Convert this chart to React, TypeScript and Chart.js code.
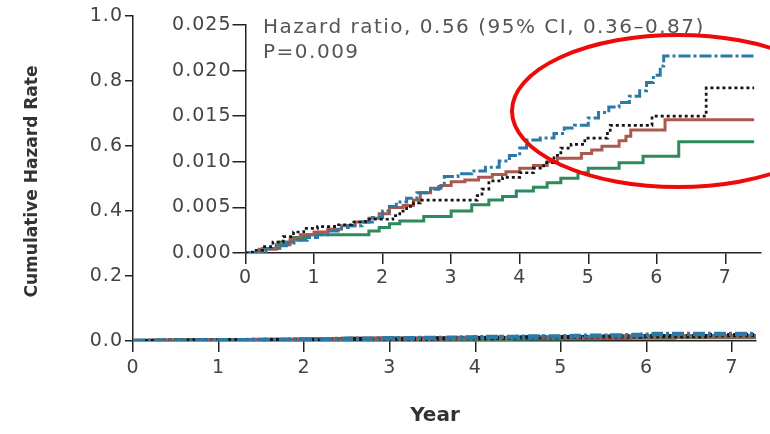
import { useEffect, useRef } from 'react';
import { Chart, registerables } from 'chart.js';

Chart.register(...registerables);

// ---- data (years, cumulative hazard) ----
const blueYears = [0, 0.15, 0.3, 0.45, 0.6, 0.75, 0.9, 1.05, 1.2, 1.35, 1.5, 1.7, 1.85, 2.0, 2.1, 2.2, 2.35, 2.5, 2.7, 2.82, 2.9, 3.1, 3.3, 3.5, 3.7, 3.85, 4.0, 4.1, 4.3, 4.5, 4.65, 4.8, 5.0, 5.15, 5.3, 5.45, 5.6, 5.75, 5.85, 5.95, 6.05, 6.1, 7.42];
const blueRates = [0, 0.0002, 0.0005, 0.0008, 0.0011, 0.0014, 0.0017, 0.002, 0.0024, 0.0028, 0.003, 0.0034, 0.0039, 0.0046, 0.0051, 0.0056, 0.006, 0.0066, 0.007, 0.0073, 0.0084, 0.0087, 0.009, 0.0094, 0.0101, 0.0107, 0.0115, 0.0124, 0.0126, 0.0131, 0.0137, 0.014, 0.0148, 0.0154, 0.016, 0.0165, 0.0172, 0.0178, 0.0187, 0.0195, 0.0205, 0.0216, 0.0216];

const blackYears = [0, 0.1, 0.25, 0.4, 0.55, 0.7, 0.85, 1.05, 1.3, 1.55, 1.75, 2.15, 2.25, 2.35, 2.45, 2.55, 3.38, 3.45, 3.55, 3.75, 4.0, 4.2, 4.35, 4.5, 4.6, 4.75, 4.95, 5.28, 5.32, 5.93, 6.72, 7.42];
const blackRates = [0, 0.0003, 0.0007, 0.0012, 0.0018, 0.0023, 0.0027, 0.0029, 0.0031, 0.0034, 0.0037, 0.0041, 0.0046, 0.0051, 0.0055, 0.0058, 0.0063, 0.007, 0.0079, 0.0083, 0.0088, 0.0093, 0.0099, 0.0107, 0.0115, 0.0119, 0.0126, 0.0133, 0.014, 0.015, 0.0181, 0.0181];

const redYears = [0, 0.2, 0.45, 0.65, 0.8, 1.0, 1.2, 1.4, 1.6, 1.8, 1.95, 2.1, 2.3, 2.45, 2.55, 2.7, 2.85, 3.0, 3.2, 3.4, 3.6, 3.8, 4.0, 4.2, 4.4, 4.55, 4.9, 5.05, 5.2, 5.45, 5.55, 5.62, 6.12, 7.42];
const redRates = [0, 0.0004, 0.0009, 0.0015, 0.002, 0.0023, 0.0026, 0.003, 0.0034, 0.0038, 0.0043, 0.005, 0.0052, 0.0058, 0.0066, 0.0071, 0.0074, 0.0078, 0.008, 0.0083, 0.0086, 0.0089, 0.0093, 0.0096, 0.01, 0.0104, 0.0109, 0.0113, 0.0117, 0.0123, 0.0128, 0.0135, 0.0146, 0.0146];

const greenYears = [0, 0.25, 0.5, 0.7, 0.9, 1.8, 1.95, 2.1, 2.25, 2.6, 3.0, 3.3, 3.55, 3.75, 3.95, 4.2, 4.4, 4.6, 4.85, 5.0, 5.45, 5.8, 6.32, 7.42];
const greenRates = [0, 0.0005, 0.0012, 0.0017, 0.002, 0.0024, 0.0028, 0.0032, 0.0035, 0.004, 0.0046, 0.0053, 0.0058, 0.0062, 0.0068, 0.0072, 0.0077, 0.0082, 0.0088, 0.0093, 0.0099, 0.0106, 0.0122, 0.0122];

// ---- tick labels & text ----
const yearTicks = [0, 1, 2, 3, 4, 5, 6, 7];
const outerRateTicks = [0, 0.2, 0.4, 0.6, 0.8, 1.0];
const insetRateTicks = [0, 0.005, 0.01, 0.015, 0.02, 0.025];
const xTitle = 'Year';
const yTitle = 'Cumulative Hazard Rate';
const hazardLabel = 'Hazard ratio, 0.56 (95% CI, 0.36\u20130.87)';
const pLabel = 'P=0.009';

const FONT = "'DejaVu Sans', sans-serif";
const W = 770;
const H = 434;

function toPoints(xs: number[], ys: number[]) {
  return xs.map((x, i) => ({ x, y: ys[i] }));
}

function makeDatasets(width: number, blueOnTop: boolean) {
  const base = { stepped: true as const, pointRadius: 0, fill: false, tension: 0, borderCapStyle: 'butt' as const };
  return [
    { ...base, label: 'Black', data: toPoints(blackYears, blackRates), borderColor: '#151515', borderDash: [3, 3], borderWidth: width * 0.9, order: 1 },
    { ...base, label: 'Blue', data: toPoints(blueYears, blueRates), borderColor: '#2b79a6', borderDash: [12, 3, 3, 3], borderWidth: width, order: blueOnTop ? 0 : 2 },
    { ...base, label: 'Red', data: toPoints(redYears, redRates), borderColor: '#a9594d', borderWidth: width, order: 3 },
    { ...base, label: 'Green', data: toPoints(greenYears, greenRates), borderColor: '#2e8a5c', borderWidth: width, order: 4 },
  ];
}

const spacingPlugin = {
  id: 'spacing',
  beforeDraw(chart: any) {
    chart.ctx.letterSpacing = '1px';
  },
};

const outerTitlesPlugin = {
  id: 'outerTitles',
  afterDraw(chart: any) {
    const ctx = chart.ctx;
    const { top, bottom } = chart.chartArea;
    ctx.save();
    ctx.letterSpacing = '0px';
    ctx.fillStyle = '#333';
    ctx.textAlign = 'center';
    ctx.textBaseline = 'alphabetic';
    ctx.font = `bold 20px ${FONT}`;
    ctx.fillText(xTitle, 435, 421);
    ctx.translate(37, (top + bottom) / 2 + 3);
    ctx.rotate(-Math.PI / 2);
    ctx.font = `bold 17px ${FONT}`;
    ctx.fillText(yTitle, 0, 0);
    ctx.restore();
  },
};

const insetTextPlugin = {
  id: 'insetText',
  afterDraw(chart: any) {
    const ctx = chart.ctx;
    ctx.save();
    ctx.letterSpacing = '1.5px';
    ctx.fillStyle = '#555';
    ctx.font = `20px ${FONT}`;
    ctx.textAlign = 'left';
    ctx.textBaseline = 'alphabetic';
    ctx.fillText(hazardLabel, 263, 33);
    ctx.fillText(pLabel, 263, 58);
    ctx.beginPath();
    ctx.ellipse(678, 111, 166, 76, 0, 0, Math.PI * 2);
    ctx.strokeStyle = '#ee0a0a';
    ctx.lineWidth = 4;
    ctx.stroke();
    ctx.restore();
  },
};

function axisCommon(tickLength: number) {
  return {
    grid: { drawOnChartArea: false, drawTicks: true, tickLength, color: '#222', lineWidth: 1.5 },
    border: { display: true, color: '#222', width: 1.5 },
  };
}

export default function App() {
  const outerRef = useRef<HTMLCanvasElement | null>(null);
  const insetRef = useRef<HTMLCanvasElement | null>(null);

  useEffect(() => {
    const outer = new Chart(outerRef.current!, {
      type: 'line',
      data: { datasets: makeDatasets(4.5, true) as any },
      options: {
        animation: false,
        responsive: false,
        devicePixelRatio: 1,
        events: [],
        layout: { padding: { left: 0, top: 16, right: 14, bottom: 10 } },
        plugins: { legend: { display: false }, tooltip: { enabled: false } },
        scales: {
          x: {
            type: 'linear',
            min: 0,
            max: 7.28,
            ...axisCommon(11),
            afterBuildTicks: (s: any) => { s.ticks = yearTicks.map((v) => ({ value: v })); },
            afterFit: (s: any) => { s.height = 83; },
            ticks: { color: '#444', font: { family: FONT, size: 19 }, padding: 5, maxRotation: 0, callback: (v: any) => String(v) },
          },
          y: {
            type: 'linear',
            min: 0,
            max: 1,
            ...axisCommon(8),
            afterBuildTicks: (s: any) => { s.ticks = outerRateTicks.map((v) => ({ value: v })); },
            afterFit: (s: any) => { s.width = 133; },
            ticks: { color: '#444', font: { family: FONT, size: 19 }, padding: 2, callback: (v: any) => Number(v).toFixed(1) },
          },
        },
      },
      plugins: [spacingPlugin, outerTitlesPlugin],
    } as any);

    const inset = new Chart(insetRef.current!, {
      type: 'line',
      data: { datasets: makeDatasets(3, false) as any },
      options: {
        animation: false,
        responsive: false,
        devicePixelRatio: 1,
        events: [],
        layout: { padding: { left: 155.5, top: 25, right: 9, bottom: 141 } },
        plugins: { legend: { display: false }, tooltip: { enabled: false } },
        scales: {
          x: {
            type: 'linear',
            min: 0,
            max: 7.52,
            ...axisCommon(11),
            afterBuildTicks: (s: any) => { s.ticks = yearTicks.map((v) => ({ value: v })); },
            afterFit: (s: any) => { s.height = 40; },
            ticks: { color: '#444', font: { family: FONT, size: 19 }, padding: 3, maxRotation: 0, callback: (v: any) => String(v) },
          },
          y: {
            type: 'linear',
            min: 0,
            max: 0.025,
            ...axisCommon(13),
            afterBuildTicks: (s: any) => { s.ticks = insetRateTicks.map((v) => ({ value: v })); },
            afterFit: (s: any) => { s.width = 90; },
            ticks: { color: '#444', font: { family: FONT, size: 19 }, padding: 1, callback: (v: any) => Number(v).toFixed(3) },
          },
        },
      },
      plugins: [spacingPlugin, insetTextPlugin],
    } as any);

    return () => {
      outer.destroy();
      inset.destroy();
    };
  }, []);

  const canvasStyle: any = { position: 'absolute', left: 0, top: 0, width: W, height: H };
  return (
    <div style={{ position: 'fixed', left: 0, top: 0, width: W, height: H, background: '#fff' }}>
      <canvas ref={outerRef} width={W} height={H} style={canvasStyle} />
      <canvas ref={insetRef} width={W} height={H} style={canvasStyle} />
    </div>
  );
}
